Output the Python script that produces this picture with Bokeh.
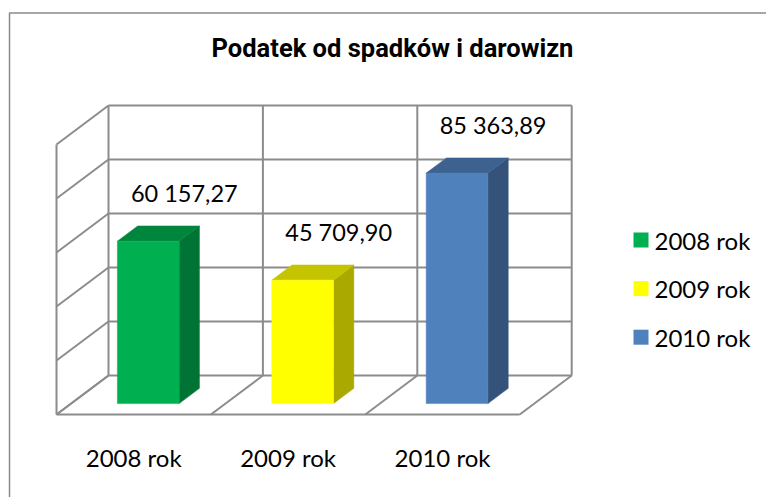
from bokeh.plotting import figure
from bokeh.models import Range1d
from bokeh.core.properties import value
from bokeh.embed import file_html
from bokeh.resources import INLINE

# ---------------- data ----------------
title_text = "Podatek od spadków i darowizn"
categories = ["2008 rok", "2009 rok", "2010 rok"]
values = [60157.27, 45709.90, 85363.89]
value_labels = ["60 157,27", "45 709,90", "85 363,89"]
y_ticks = [0, 20000, 40000, 60000, 80000, 100000]

# ---------------- styles ----------------
front_colors = ["#00B050", "#FFFF00", "#4F81BD"]
top_colors = ["#00853C", "#C4C400", "#3D6290"]
side_colors = ["#007434", "#A9A900", "#34527A"]
grid_color = "#8c8c8c"
txt_font = "Lato"

# ---------------- layout (page pixels) ----------------
PAGE = 0
W, H = 766, 497
PXC = 154.4            # px per category
PXV = 270.0 / 100000   # px per value unit
X0, Y0 = 56.0, 414.0   # page px of (category 0, value 0) on front edge
DX = 52.0 / PXC        # depth offset in category units
DY = 39.0 / PXV        # depth offset in value units
F1, F2 = 0.28, 0.67    # bar depth (front/back fraction)
HW = 0.2               # bar half width (categories)
LBL_DX = 36.0 / PXC
LBL_DY = 48.0 / PXV


def px_x(X):
    return (X - X0) / PXC


def px_y(Y):
    return (Y0 - Y) / PXV


p = figure(
    width=W, height=H,
    x_range=Range1d(px_x(PAGE), px_x(PAGE + W)),
    y_range=Range1d(px_y(PAGE + H), px_y(PAGE)),
    x_axis_type=None, y_axis_type=None,
    min_border=0, toolbar_location=None, output_backend="svg",
    outline_line_color=None, background_fill_color="white",
    border_fill_color="white",
)

n = len(categories)
ymax = y_ticks[-1]

# outer chart border (left and top visible)
p.line([px_x(9), px_x(9), px_x(770)], [px_y(500), px_y(12.5), px_y(12.5)],
       line_color="#8a8a8a", line_width=1.5)

# ---------------- walls & floor ----------------
xs, ys = [], []
# side wall grid
for t in y_ticks:
    xs.append([0, DX]); ys.append([t, t + DY])
xs.append([0, 0]); ys.append([0, ymax])
# back wall horizontal grid
for t in y_ticks:
    xs.append([DX, n + DX]); ys.append([t + DY, t + DY])
# back wall verticals
for i in range(n + 1):
    xs.append([i + DX, i + DX]); ys.append([DY, ymax + DY])
# floor
xs.append([0, n]); ys.append([0, 0])
for i in range(n + 1):
    xs.append([i, i + DX]); ys.append([0, DY])
p.multi_line(xs, ys, line_color=grid_color, line_width=2)

# ---------------- bars ----------------
for i, v in enumerate(values):
    cx = i + 0.5
    l1, r1 = cx - HW + F1 * DX, cx + HW + F1 * DX
    l2, r2 = cx - HW + F2 * DX, cx + HW + F2 * DX
    b1, b2 = F1 * DY, F2 * DY
    # side face
    p.patch([r1, r2, r2, r1], [b1, b2, b2 + v, b1 + v],
            fill_color=side_colors[i], line_color=side_colors[i], line_width=0.5)
    # top face
    p.patch([l1, r1, r2, l2], [b1 + v, b1 + v, b2 + v, b2 + v],
            fill_color=top_colors[i], line_color=top_colors[i], line_width=0.5)
    # front face
    p.quad(left=l1, right=r1, bottom=b1, top=b1 + v,
           fill_color=front_colors[i], line_color=front_colors[i], line_width=0.5)

# value labels
p.text(x=[i + 0.5 + F1 * DX + LBL_DX for i in range(n)],
       y=[F1 * DY + v + LBL_DY for v in values],
       text=value_labels, text_font=value(txt_font), text_font_size="23.5px",
       text_align="center", text_baseline="middle", text_color="black")

# category labels
p.text(x=[i + 0.5 for i in range(n)], y=[px_y(457)] * n, text=categories,
       text_font=value(txt_font), text_font_size="24px",
       text_align="center", text_baseline="middle", text_color="black")

# title
p.text(x=[px_x(392)], y=[px_y(47)], text=[title_text],
       text_font=value("Roboto"), text_font_style="bold",
       text_font_size="25.5px", text_align="center", text_baseline="middle",
       text_color="black")

# legend (manual, matching Excel layout)
leg_y = [239.5 + 48.6 * k for k in range(n)]
p.rect(x=[px_x(640.5)] * n, y=[px_y(yy) for yy in leg_y], width=15, height=15,
       width_units="screen", height_units="screen",
       fill_color=front_colors, line_color=None)
p.text(x=[px_x(654)] * n, y=[px_y(yy) for yy in leg_y], text=categories,
       text_font=value(txt_font), text_font_size="24px",
       text_align="left", text_baseline="middle", text_color="black")

open("out.html", "w").write(file_html(p, INLINE))
